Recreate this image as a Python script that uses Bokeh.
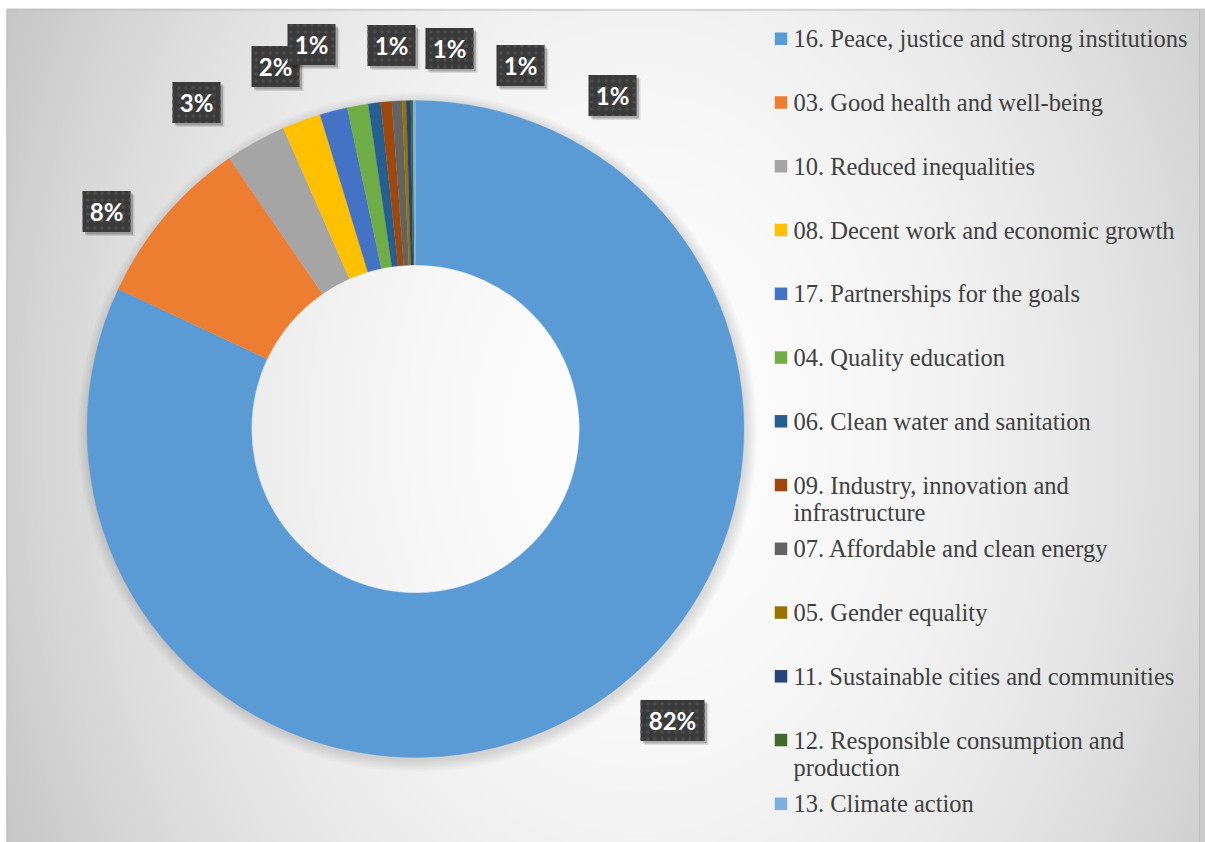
import numpy as np
from bokeh.plotting import figure
from bokeh.models import Range1d
from bokeh.core.properties import value
from bokeh.embed import file_html
from bokeh.resources import INLINE

# ---------------- data ----------------
categories = [
    "16. Peace, justice and strong institutions",
    "03. Good health and well-being",
    "10. Reduced inequalities",
    "08. Decent work and economic growth",
    "17. Partnerships for the goals",
    "04. Quality education",
    "06. Clean water and sanitation",
    "09. Industry, innovation and infrastructure",
    "07. Affordable and clean energy",
    "05. Gender equality",
    "11. Sustainable cities and communities",
    "12. Responsible consumption and production",
    "13. Climate action",
]
legend_labels = [
    "16. Peace, justice and strong institutions",
    "03. Good health and well-being",
    "10. Reduced inequalities",
    "08. Decent work and economic growth",
    "17. Partnerships for the goals",
    "04. Quality education",
    "06. Clean water and sanitation",
    "09. Industry, innovation and\ninfrastructure",
    "07. Affordable and clean energy",
    "05. Gender equality",
    "11. Sustainable cities and communities",
    "12. Responsible consumption and\nproduction",
    "13. Climate action",
]
shares = [82.0, 8.4, 3.0, 1.9, 1.36, 1.03, 0.6, 0.55, 0.5, 0.2, 0.22, 0.11, 0.12]
colors = ["#5B9BD5", "#ED7D31", "#A5A5A5", "#FFC000", "#4472C4", "#70AD47",
          "#255E91", "#9E480E", "#636363", "#997300", "#264478", "#43682B", "#7CAFDD"]

# data-label anchor positions (layout, page pixels) for the labelled slices
label_pos = [(672, 720), (106, 211), (196, 102), (275, 66), (311, 44),
             (391, 45), (449, 48), (520, 65), (612, 95)]

# ---------------- layout ----------------
W, H = 1205, 842
def Y(py):
    return H - py

CX, CY = 415, 428.5
R_OUT, R_IN = 328.5, 164

p = figure(width=W, height=H, x_range=Range1d(0, W), y_range=Range1d(0, H),
           output_backend="svg", toolbar_location=None, min_border=0,
           x_axis_type=None, y_axis_type=None,
           background_fill_color="white", border_fill_color="white",
           outline_line_color=None)
p.grid.visible = False

# background radial gradient of the chart area
x0, ytop = 6, 9
step = 2
nx = int(np.ceil((W - x0) / step))
ny = int(np.ceil((H - ytop) / step))
xs = x0 + (np.arange(nx) + 0.5) * step
ys_data = (np.arange(ny) + 0.5) * step
ys_pix = H - ys_data
XX, YY = np.meshgrid(xs, ys_pix)
d2 = (XX - 640) ** 2 + ((YY - 430) * 0.75) ** 2
v = np.clip(253 - 1.09e-4 * d2, 196, 253).astype(np.uint8)
img = np.empty((ny, nx), dtype=np.uint32)
view = img.view(dtype=np.uint8).reshape((ny, nx, 4))
view[..., 0] = v
view[..., 1] = v
view[..., 2] = v
view[..., 3] = 255
p.image_rgba(image=[img], x=x0, y=0, dw=nx * step, dh=ny * step)

# right strip + border
p.quad(left=[1199], right=[W], top=[Y(ytop)], bottom=[0], fill_color="#cbcbcb", line_color=None)
p.quad(left=[x0 + 0.5], right=[1199], top=[Y(ytop) - 0.5], bottom=[0], fill_color=None,
       line_color="#bdbdbd", line_width=1)

# soft shadow ring around donut
for k in range(8):
    p.annulus(x=[CX + 2], y=[Y(CY + 3)], inner_radius=R_OUT - 6,
              outer_radius=R_OUT + 1 + k * 1.5, fill_color="black",
              fill_alpha=0.016, line_color=None)

# donut
vals = np.array(shares, dtype=float)
frac = vals / vals.sum()
cum = np.cumsum(frac)
start = np.pi / 2 - 2 * np.pi * (cum - frac)
end = np.pi / 2 - 2 * np.pi * cum
p.annular_wedge(x=CX, y=Y(CY), inner_radius=R_IN, outer_radius=R_OUT,
                start_angle=start, end_angle=end, direction="clock",
                fill_color=colors, line_color=colors, line_width=0.3)

# data labels
for i, (lx, ly) in enumerate(label_pos):
    pct = int(np.floor(frac[i] * 100 + 0.5))
    txt = f"{pct}%"
    w = 16 * len(txt) + 16
    h = 41
    p.rect(x=[lx + 4], y=[Y(ly + 4)], width=w, height=h, fill_color="black",
           fill_alpha=0.10, line_color=None)
    p.rect(x=[lx + 2.5], y=[Y(ly + 2.5)], width=w, height=h, fill_color="black",
           fill_alpha=0.22, line_color=None)
    p.rect(x=[lx], y=[Y(ly)], width=w, height=h, fill_color="#3a3a3a",
           hatch_pattern="dot", hatch_color="#4d4d4d", hatch_scale=7, hatch_weight=1,
           line_color=None)
    p.text(x=[lx], y=[Y(ly)], text=[txt], text_font=value("Lato"), text_font_style="bold",
           text_font_size="24px", text_color="white", text_align="center",
           text_baseline="middle")

# legend
for i, lab in enumerate(legend_labels):
    cy = 38.3 + 63.75 * i
    p.rect(x=[780.5], y=[Y(cy)], width=12.5, height=12.5, fill_color=colors[i], line_color=None)
    for j, line in enumerate(lab.split("\n")):
        p.text(x=[793], y=[Y(cy + 27.7 * j)], text=[line],
               text_font=value("Liberation Serif"), text_font_size="24.5px",
               text_color="#404040", text_align="left", text_baseline="middle")

open("out.html", "w").write(file_html(p, INLINE))
